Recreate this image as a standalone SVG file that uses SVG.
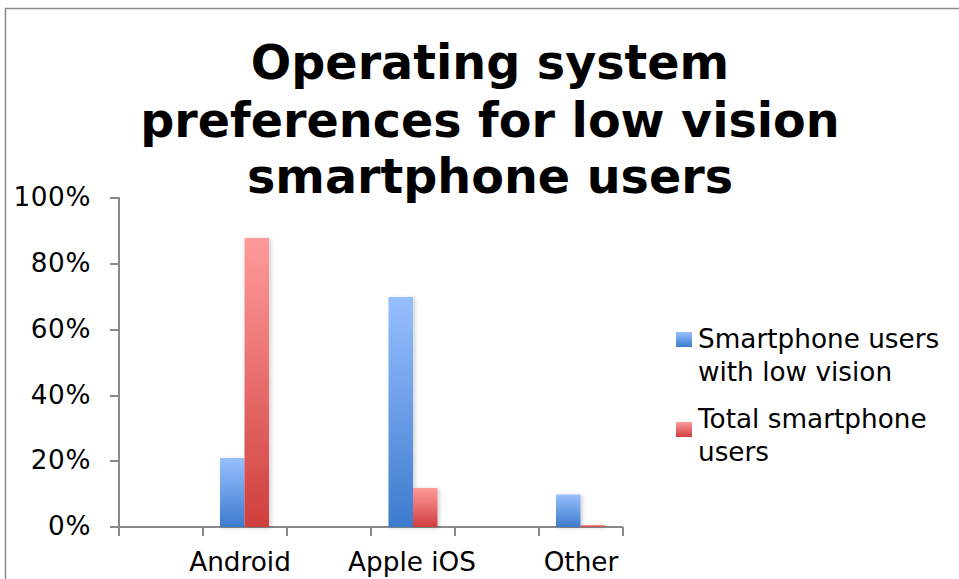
<svg xmlns="http://www.w3.org/2000/svg" width="959" height="579" viewBox="0 0 959 579">
<style>
.title{font-family:"DejaVu Sans",Verdana,sans-serif;font-weight:bold;font-size:47.6px;fill:#000;text-anchor:middle}
.lbl{font-family:"DejaVu Sans",Verdana,sans-serif;font-size:26.3px;fill:#000}
.ytl{text-anchor:end;letter-spacing:0.6px}
.xtl{text-anchor:middle}
.axis{stroke:#898989;stroke-width:2;fill:none}
.frame{stroke:#8a8a8a;stroke-width:1.5;fill:none}
.blue{fill:url(#gBlue)}
.red{fill:url(#gRed)}
</style>
<defs>
<linearGradient id="gBlue" x1="0" y1="0" x2="0" y2="1">
<stop offset="0" stop-color="#97BFFF"/>
<stop offset="1" stop-color="#3D7BCD"/>
</linearGradient>
<linearGradient id="gRed" x1="0" y1="0" x2="0" y2="1">
<stop offset="0" stop-color="#FF9B9B"/>
<stop offset="1" stop-color="#CF3F3D"/>
</linearGradient>
<filter id="sh" x="-30%" y="-10%" width="160%" height="120%">
<feDropShadow dx="2" dy="1" stdDeviation="2" flood-color="#000" flood-opacity="0.18"/>
</filter>
</defs>
<rect width="959" height="579" fill="#fff"/>
<path class="frame" d="M5.5,579 V8.5 H959"/>
<g id="title">
<text class="title" x="490" y="79">Operating system</text>
<text class="title" x="490" y="137">preferences for low vision</text>
<text class="title" x="490" y="193">smartphone users</text>
</g>
<g id="axes">
<path class="axis" d="M119,197 V527 M110,198 H119 M110,264 H119 M110,330 H119 M110,396 H119 M110,461 H119 M110,527 H623"/>
<path class="axis" d="M119,527 V536 M203,527 V536 M287,527 V536 M371,527 V536 M455,527 V536 M539,527 V536 M623,527 V536"/>
<text class="lbl ytl" x="91" y="206">100%</text>
<text class="lbl ytl" x="91" y="272">80%</text>
<text class="lbl ytl" x="91" y="338">60%</text>
<text class="lbl ytl" x="91" y="404">40%</text>
<text class="lbl ytl" x="91" y="469">20%</text>
<text class="lbl ytl" x="91" y="535">0%</text>
<text class="lbl xtl" x="240" y="571">Android</text>
<text class="lbl xtl" x="412" y="571">Apple iOS</text>
<text class="lbl xtl" x="581" y="571">Other</text>
</g>
<g id="bars" filter="url(#sh)">
<rect class="blue" x="220" y="458" width="24.5" height="69"/>
<rect class="red" x="244.5" y="238" width="24.5" height="289"/>
<rect class="blue" x="388.5" y="297" width="24.5" height="230"/>
<rect class="red" x="413" y="488" width="24.5" height="39"/>
<rect class="blue" x="556" y="494.5" width="24.5" height="32.5"/>
<rect class="red" x="580.5" y="525" width="24.5" height="2"/>
</g>
<g id="legend">
<rect class="blue" x="676" y="332" width="16" height="15"/>
<text class="lbl" x="698" y="348">Smartphone users</text>
<text class="lbl" x="698" y="381">with low vision</text>
<rect class="red" x="676" y="422" width="16" height="15"/>
<text class="lbl" x="698" y="428">Total smartphone</text>
<text class="lbl" x="698" y="461">users</text>
</g>
</svg>
